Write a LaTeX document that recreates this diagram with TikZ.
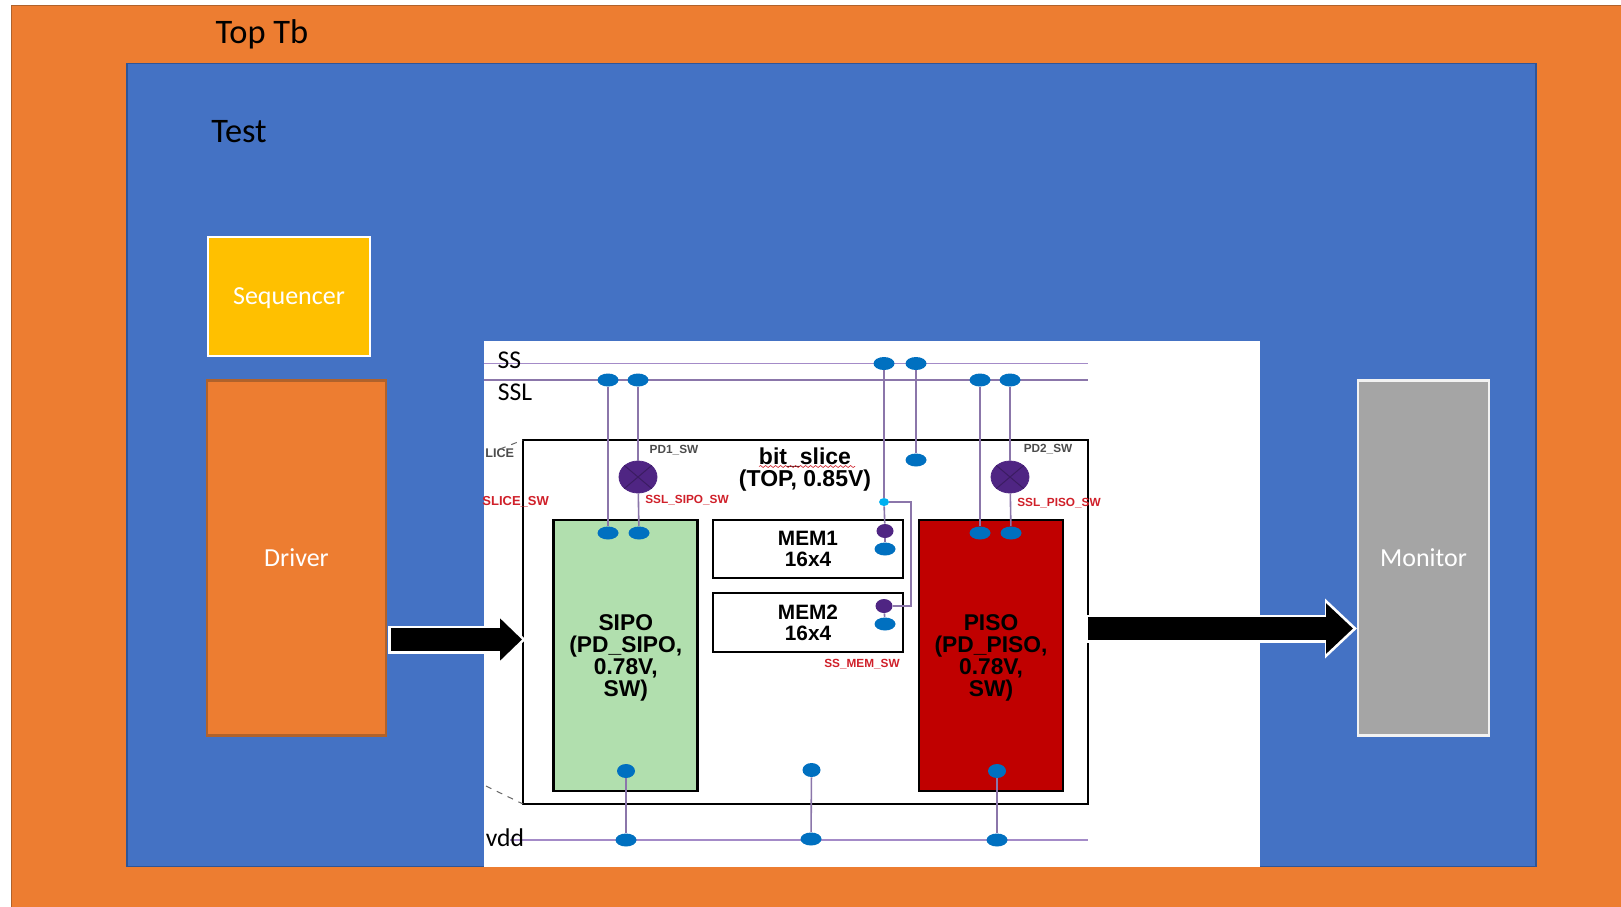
\documentclass[tikz,border=0pt]{standalone}
\usepackage{fontspec}
\setmainfont{Carlito}
\newfontfamily\arialfont{Liberation Sans}
\definecolor{tborange}{HTML}{ED7D31}
\definecolor{tbedge}{HTML}{B0622B}
\definecolor{testblue}{HTML}{4472C4}
\definecolor{testedge}{HTML}{2F5597}
\definecolor{seqgold}{HTML}{FFC000}
\definecolor{mongray}{HTML}{A5A5A5}
\definecolor{sipogreen}{HTML}{B1DFAE}
\definecolor{pisored}{HTML}{C00000}
\definecolor{railpurple}{HTML}{A48BC8}
\definecolor{swpurple}{HTML}{4F2583}
\definecolor{dotblue}{HTML}{0070C0}
\definecolor{tapcyan}{HTML}{00B0F0}
\definecolor{labelred}{HTML}{D0202A}
\usetikzlibrary{shapes.geometric, arrows.meta, positioning, calc, decorations.pathmorphing}

\begin{document}
\begin{tikzpicture}[
        x=0.5pt, y=-0.5pt,
        font=\fontsize{13}{15}\selectfont,
        box/.style={
            rectangle,
            inner sep=0pt,
            outer sep=0pt,
            align=center
        },
        uvm/.style={box, text=white, text depth=0pt, line width=1.4pt},
        chip/.style={
            box,
            draw=black,
            line width=1.3pt,
            text depth=0pt,
            font=\arialfont\bfseries\fontsize{11.4}{11}\selectfont
        },
        rail/.style={draw=railpurple, line width=0.8pt},
        wire/.style={draw=railpurple!85!black, line width=0.8pt},
        dot/.style={ellipse, fill=dotblue, inner sep=0pt, minimum width=10.5pt, minimum height=6.5pt},
        swdot/.style={ellipse, fill=swpurple, inner sep=0pt, minimum width=8.5pt, minimum height=7pt},
        switch/.style={ellipse, fill=swpurple, draw=swpurple, inner sep=0pt, minimum width=19pt, minimum height=16pt},
        pinlabel/.style={font=\arialfont\bfseries\fontsize{5.9}{7}\selectfont, text=black!70},
        swlabel/.style={font=\arialfont\bfseries\fontsize{5.9}{7}\selectfont, text=labelred},
        title/.style={font=\fontsize{17.2}{19}\selectfont, text=black},
        railname/.style={font=\fontsize{12.8}{15}\selectfont, text=black}
    ]
    \useasboundingbox (0,0) rectangle (1621,906);
    \clip (0,0) rectangle (1621,906);

    % Nested testbench frames
    \node[box, draw=tbedge, fill=tborange, line width=0.7pt, minimum width=844pt, minimum height=472pt] (toptb) at (855.5,477.5) {};
    \node[box, draw=testedge, fill=testblue, line width=0.7pt, minimum width=704.5pt, minimum height=401.5pt] (test) at (831.5,465.25) {};
    \node[title] (toptblabel) at (262,34) {Top Tb};
    \node[title] (testlabel) at (239,132) {Test};

    % Agent blocks
    \node[uvm, draw=white, fill=seqgold, minimum width=81pt, minimum height=59.5pt] (sequencer) at (289,296.5) {Sequencer};
    \node[uvm, draw=tbedge, fill=tborange, minimum width=89.5pt, minimum height=177.5pt] (driver) at (296.5,558) {Driver};
    \node[uvm, draw=white!85!mongray, fill=mongray, minimum width=65.5pt, minimum height=177.5pt] (monitor) at (1423.5,558) {Monitor};

    % DUT panel
    \node[box, fill=white, minimum width=388pt, minimum height=263pt] (panel) at (872,603.75) {};
    \node[chip, minimum width=282.5pt, minimum height=182pt] (slice) at (805.5,622) {};
    \node[chip, fill=sipogreen, minimum width=72pt, minimum height=135.5pt] (sipo) at (625.75,655.5) {SIPO\\(PD\_SIPO,\\0.78V,\\SW)};
    \node[chip, fill=pisored, minimum width=72pt, minimum height=135.5pt] (piso) at (991,655.5) {PISO\\(PD\_PISO,\\0.78V,\\SW)};
    \node[chip, font=\arialfont\bfseries\fontsize{10.4}{10.4}\selectfont, minimum width=95pt, minimum height=29pt] (mem1) at (808,549) {MEM1\\16x4};
    \node[chip, font=\arialfont\bfseries\fontsize{10.4}{10.4}\selectfont, minimum width=95pt, minimum height=29.5pt] (mem2) at (808,622.5) {MEM2\\16x4};
    \node[font=\arialfont\bfseries\fontsize{11.5}{11}\selectfont, align=center] (slicelabel) at (805,470) {bit\_slice\\(TOP, 0.85V)};
    \coordinate (wavel) at (759,466.5);
    \coordinate (waver) at (855,466.5);
    \draw[labelred, line width=0.3pt, decorate, decoration={snake, amplitude=0.5pt, segment length=2.5pt}] (wavel) -- (waver);

    % Supply rails
    \coordinate (ssl) at (484,363.5);
    \coordinate (ssr) at (1088,363.5);
    \coordinate (ssll) at (484,380);
    \coordinate (sslr) at (1088,380);
    \coordinate (vddl) at (510,840);
    \coordinate (vddr) at (1088,840);
    \draw[rail] (ssl) -- (ssr);
    \draw[rail, draw=railpurple!85!black, line width=0.6pt] (ssll) -- (sslr);
    \draw[rail] (vddl) -- (vddr);
    \node[railname] (sslabel) at (509.5,360) {SS};
    \node[railname] (ssllabel) at (515,392) {SSL};
    \node[railname] (vddlabel) at (505,838) {vdd};

    % Taps on the rails
    \node[dot] (a1) at (608,380) {};
    \node[dot] (a2) at (638,380) {};
    \node[dot] (a3) at (884,363.5) {};
    \node[dot] (a4) at (916,363.5) {};
    \node[dot] (a5) at (980,380) {};
    \node[dot] (a6) at (1010,380) {};
    \node[dot] (b1) at (626,840) {};
    \node[dot] (b2) at (811,839) {};
    \node[dot] (b3) at (997,840) {};

    % Taps on the blocks
    \node[dot] (c1) at (608,533) {};
    \node[dot] (c2) at (639,533) {};
    \node[dot] (c3) at (980,533) {};
    \node[dot] (c4) at (1011,533) {};
    \node[dot] (c5) at (916,460) {};
    \node[dot, minimum width=9pt, minimum height=7pt] (d1) at (626,771) {};
    \node[dot, minimum width=9pt, minimum height=7pt] (d2) at (811.5,770) {};
    \node[dot, minimum width=9pt, minimum height=7pt] (d3) at (997,771) {};

    % Power switches
    \node[switch] (sw1) at (638,477) {};
    \node[switch] (sw2) at (1010,477) {};
    \node[ellipse, fill=tapcyan, inner sep=0pt, minimum width=5pt, minimum height=4pt] (tap) at (884,502) {};
    \node[swdot] (sw3) at (885,531) {};
    \node[swdot] (sw4) at (884,606) {};
    \node[dot] (m1) at (885,549) {};
    \node[dot] (m2) at (885,624) {};
    \coordinate (tapa) at (911,502);
    \coordinate (tapb) at (911,606);

    % Vertical wires
    \draw[wire] (a1) -- (c1);
    \draw[wire] (a2) -- (sw1);
    \draw[wire] (sw1) -- (c2);
    \draw[wire] (a3) -- (tap);
    \draw[wire] (tap) -- (sw3);
    \draw[wire] (sw3) -- (m1);
    \draw[wire] (sw4) -- (m2);
    \draw[wire] (a4) -- (c5);
    \draw[wire] (a5) -- (c3);
    \draw[wire] (a6) -- (sw2);
    \draw[wire] (sw2) -- (c4);
    \draw[wire] (d1) -- (b1);
    \draw[wire] (d2) -- (b2);
    \draw[wire] (d3) -- (b3);
    \draw[wire, line width=0.6pt] (tap) -- (tapa) -- (tapb) -- (sw4);
    \draw[swpurple!75!black, line width=0.5pt] (sw1.north west) -- (sw1.south east);
    \draw[swpurple!75!black, line width=0.5pt] (sw1.north east) -- (sw1.south west);
    \draw[swpurple!75!black, line width=0.5pt] (sw2.north west) -- (sw2.south east);
    \draw[swpurple!75!black, line width=0.5pt] (sw2.north east) -- (sw2.south west);

    % Small labels
    \node[pinlabel] (pd1) at (674,450) {PD1\_SW};
    \node[pinlabel] (pd2) at (1048,449) {PD2\_SW};
    \node[swlabel] (sipolabel) at (687,500) {SSL\_SIPO\_SW};
    \node[swlabel] (pisolabel) at (1059,503) {SSL\_PISO\_SW};
    \node[swlabel, font=\arialfont\bfseries\fontsize{6.5}{7}\selectfont, anchor=west, inner sep=0pt] (slicesw) at (482,502) {SLICE\_SW};
    \node[pinlabel, font=\arialfont\bfseries\fontsize{6.3}{7}\selectfont, anchor=west, inner sep=0pt] (licelabel) at (485,453) {LICE};
    \node[swlabel] (memlabel) at (862,664) {SS\_MEM\_SW};

    % Dashed zoom lines
    \coordinate (zoomt) at (500,449);
    \coordinate (zoomb) at (486,786);
    \draw[black!60, dashed, line width=0.5pt] (zoomt) -- (slice.north west);
    \draw[black!60, dashed, line width=0.5pt] (zoomb) -- (slice.south west);

    % Block arrows
    \coordinate (drvout) at (391,639.5);
    \coordinate (dutin) at (522,639.5);
    \coordinate (dutout) at (1088,628.5);
    \coordinate (monin) at (1353,628.5);
    \draw[white, line width=14pt, shorten >=-2pt, shorten <=-1.5pt, -{Triangle[length=14pt,width=25pt]}] (drvout) -- (dutin);
    \draw[black, line width=11.5pt, -{Triangle[length=11pt,width=20.5pt]}] (drvout) -- (dutin);
    \draw[white, line width=14pt, shorten >=-2pt, shorten <=-1.5pt, -{Triangle[length=16pt,width=29pt]}] (dutout) -- (monin);
    \draw[black, line width=11.5pt, -{Triangle[length=13.5pt,width=24.5pt]}] (dutout) -- (monin);
\end{tikzpicture}
\end{document}
